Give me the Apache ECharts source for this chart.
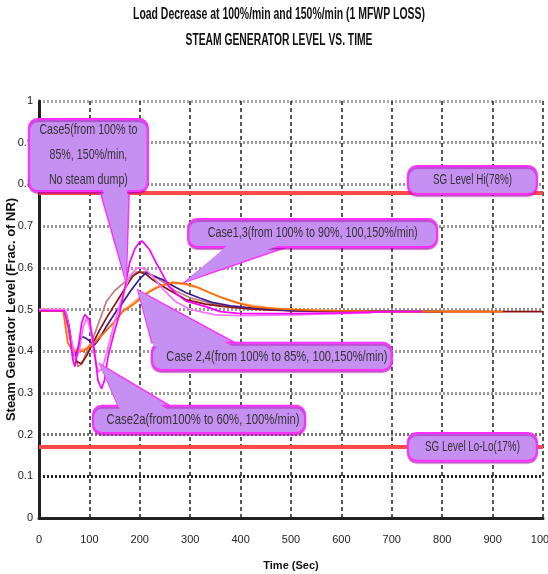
<!DOCTYPE html>
<html><head><meta charset="utf-8">
<script src="https://cdn.jsdelivr.net/npm/echarts@6/dist/echarts.min.js"></script>
<style>html,body{margin:0;padding:0;background:#fff}#c{width:548px;height:574px}</style>
</head><body><div id="c"></div>
<script>
var FONT = '"Liberation Sans",Arimo,Arial,sans-serif';
var titleText = 'Load Decrease at 100%/min and 150%/min (1 MFWP LOSS)';
var subTitleText = 'STEAM GENERATOR LEVEL VS. TIME';
var xAxisName = 'Time (Sec)';
var yAxisName = 'Steam Generator Level (Frac. of NR)';
var xTicks = [0,100,200,300,400,500,600,700,800,900,1000];
var yTicks = [0,0.1,0.2,0.3,0.4,0.5,0.6,0.7,0.8,0.9,1];
var sgHi = 0.78, sgLoLo = 0.17;

var maroonT = [0,50,58,66,75,84,95,107,120,134,147,160,173,186,199,212,225,240,258,293,330,360,400,450,500,600,700,800,900,1000];
var maroonV = [0.497,0.497,0.47,0.41,0.375,0.37,0.39,0.42,0.45,0.48,0.505,0.53,0.555,0.58,0.59,0.585,0.572,0.56,0.547,0.523,0.513,0.508,0.503,0.499,0.497,0.495,0.495,0.495,0.495,0.495];
var rosyT = [0,45,55,65,77,85,95,110,134,150,174,194,212,225,239,270,300,350,400,500,700];
var rosyV = [0.5,0.5,0.49,0.42,0.363,0.37,0.4,0.44,0.52,0.545,0.57,0.59,0.59,0.582,0.572,0.545,0.528,0.512,0.503,0.497,0.495];
var navyT = [0,52,60,66,71,78,84,92,100,110,120,134,150,166,182,199,213,228,245,268,292,320,343,380,410,500,800];
var navyV = [0.497,0.497,0.45,0.4,0.385,0.41,0.435,0.432,0.425,0.415,0.43,0.46,0.49,0.516,0.545,0.572,0.589,0.58,0.572,0.555,0.54,0.527,0.517,0.509,0.505,0.497,0.495];
var orangeT = [0,48,57,67,87,100,110,134,150,166,185,199,220,239,265,290,311,335,357,390,422,470,550,700,920];
var orangeV = [0.497,0.497,0.42,0.4,0.4,0.41,0.42,0.45,0.47,0.495,0.51,0.524,0.543,0.555,0.565,0.562,0.555,0.542,0.531,0.517,0.507,0.502,0.498,0.495,0.495];
var peachT = [0,50,60,70,90,110,140,170,200,230,260,290,320,360,400,450,500,600,880];
var peachV = [0.5,0.5,0.43,0.405,0.405,0.425,0.46,0.5,0.53,0.553,0.563,0.56,0.55,0.53,0.515,0.505,0.5,0.497,0.497];
var magentaT = [0,50,60,67,71,78,85,91,100,108,117,124,130,137,148,160,170,180,190,199,205,219,232,245,258,275,292,331,360,400,500,600,700,760];
var magentaV = [0.497,0.497,0.45,0.38,0.363,0.41,0.47,0.488,0.476,0.42,0.33,0.31,0.33,0.387,0.44,0.49,0.55,0.613,0.645,0.661,0.664,0.644,0.613,0.585,0.555,0.535,0.52,0.507,0.495,0.49,0.49,0.492,0.495,0.495];
var violetT = [0,52,62,72,80,88,95,102,110,118,126,135,150,165,180,195,210,225,245,270,300,350,400,500,600,660];
var violetV = [0.5,0.5,0.44,0.38,0.4,0.46,0.48,0.45,0.39,0.35,0.36,0.4,0.47,0.53,0.58,0.6,0.598,0.58,0.55,0.52,0.5,0.487,0.485,0.487,0.49,0.492];

function pairs(t, v){ return t.map(function(x,i){ return [x, v[i]]; }); }

var lineDefs = [
  {name:'Case4b', t:peachT, v:peachV, color:'#ffb77a'},
  {name:'Case3', t:rosyT, v:rosyV, color:'#c47c7c'},
  {name:'Case1', t:maroonT, v:maroonV, color:'#8b1010'},
  {name:'Case2', t:navyT, v:navyV, color:'#3b1c8c'},
  {name:'Case4', t:orangeT, v:orangeV, color:'#ff6a00'},
  {name:'Case5', t:violetT, v:violetV, color:'#ff70ff'},
  {name:'Case2a', t:magentaT, v:magentaV, color:'#ff00ff'}
];

var series = lineDefs.map(function(d){
  return {type:'line', name:d.name, data:pairs(d.t,d.v), showSymbol:false, symbol:'none',
    lineStyle:{color:d.color, width:1.7}, z:3, animation:false};
});
series[0].markLine = {silent:true, symbol:'none', animation:false,
  label:{show:false}, lineStyle:{color:'#ff4848', width:4, type:'solid'},
  data:[{yAxis:sgHi},{yAxis:sgLoLo}]};

var chart = echarts.init(document.getElementById('c'));
chart.setOption({
  animation:false,
  backgroundColor:'#fff',
  grid:{left:39, right:5, top:101, bottom:56, outerBoundsMode:'none', containLabel:false},
  xAxis:{type:'value', min:0, max:1000, interval:100,
    name:xAxisName, nameLocation:'middle', nameGap:42, nameMoveOverlap:false,
    nameTextStyle:{fontFamily:FONT, fontSize:11, fontWeight:'bold', color:'#111'},
    axisLine:{show:true, lineStyle:{color:'#222', width:3}},
    axisTick:{show:false},
    axisLabel:{fontFamily:FONT, fontSize:11, color:'#222', margin:16, formatter:function(v){ return String(v); }},
    splitLine:{show:true, lineStyle:{color:'#222', width:1.5, type:[4,3]}}
  },
  yAxis:{type:'value', min:0, max:1, interval:0.1,
    name:yAxisName, nameLocation:'middle', nameGap:21, nameMoveOverlap:false,
    nameTextStyle:{fontFamily:FONT, fontSize:13, fontWeight:'bold', color:'#111'},
    axisLine:{show:true, lineStyle:{color:'#222', width:3}},
    axisTick:{show:false},
    axisLabel:{fontFamily:FONT, fontSize:11, color:'#222', margin:6,
      formatter:function(v){ return String(Math.round(v*10)/10); }},
    splitLine:{show:true, lineStyle:{color:['#333','#222','#777','#999','#999','#999','#999','#999','#999','#999','#aaa'], width:3, type:[2,2]}}
  },
  series:series
});

var mctx = document.createElement('canvas').getContext('2d');
function fit(text, font, target){
  mctx.font = font;
  var w = Math.max.apply(null, text.split('\n').map(function(s){ return mctx.measureText(s).width; }));
  return target / w;
}

// Callouts defined in data coordinates [time, level]
var callouts = [
  {text:'Case5(from 100% to\n85%, 150%/min,\nNo steam dump)', box:[-20,0.957,216,0.784], ptr:[[121,0.784],[179,0.784],[173,0.564]], lh:25, tw:98},
  {text:'Case1,3(from 100% to 90%, 100,150%/min)', box:[296,0.717,790,0.65], ptr:[[375,0.65],[492,0.65],[290,0.566]], tw:210},
  {text:'SG Level Hi(78%)', box:[732,0.844,988,0.777], tw:79},
  {text:'Case 2,4(from 100% to 85%, 100,150%/min)', box:[224,0.42,700,0.355], ptr:[[224,0.42],[389,0.42],[196,0.547]], tw:221, dx:5},
  {text:'Case2a(from100% to 60%, 100%/min)', box:[107,0.269,528,0.204], ptr:[[157,0.269],[260,0.269],[121,0.369]], tw:193, dx:4},
  {text:'SG Level Lo-Lo(17%)', box:[732,0.204,988,0.137], tw:95}
];
function px(p){ return chart.convertToPixel({gridIndex:0}, p); }
var FILL = '#c690f2', EDGE = '#ff30ff';
var CFS = 15;
var els = [];
callouts.forEach(function(c, i){
  var a = px([c.box[0], c.box[1]]), b = px([c.box[2], c.box[3]]);
  var x = a[0], y = a[1], w = b[0]-a[0], h = b[1]-a[1];
  var base = 20 + i*4;
  if (c.ptr){
    var pts = c.ptr.map(px);
    els.push({type:'polygon', shape:{points:pts}, style:{fill:FILL, stroke:EDGE, lineWidth:1.5}, z:base});
    var inner = pts.map(function(p, k){ return k<2 ? [p[0] + (k===0?2:-2), p[1] + (p[1] > pts[2][1] ? 4 : -4)] : p; });
    els.push({type:'polygon', shape:{points:inner}, style:{fill:FILL}, z:base+2});
  }
  els.push({type:'rect', shape:{x:x, y:y, width:w, height:h, r:9}, style:{fill:FILL, stroke:EDGE, lineWidth:2, shadowColor:'rgba(170,0,170,0.5)', shadowOffsetY:2, shadowBlur:1}, z:base+1});
  var sc = fit(c.text, CFS + 'px ' + FONT, c.tw);
  els.push({type:'text', x:x + w/2 + (c.dx||0), y:y + h/2, scaleX:sc, style:{text:c.text, fontFamily:FONT, fontSize:CFS, fill:'#333', align:'center', verticalAlign:'middle', lineHeight:c.lh||17}, z:base+3});
});

// Titles (condensed to match reference width)
var TF = 16;
[[titleText, 15, 292], [subTitleText, 41, 187]].forEach(function(t){
  var sc = fit(t[0], 'bold ' + TF + 'px ' + FONT, t[2]);
  els.push({type:'text', x:279, y:t[1], scaleX:sc, style:{text:t[0], fontFamily:FONT, fontSize:TF, fontWeight:'bold', fill:'#111', align:'center', verticalAlign:'middle'}, z:50});
});
chart.setOption({graphic:els});
</script>
</body></html>
